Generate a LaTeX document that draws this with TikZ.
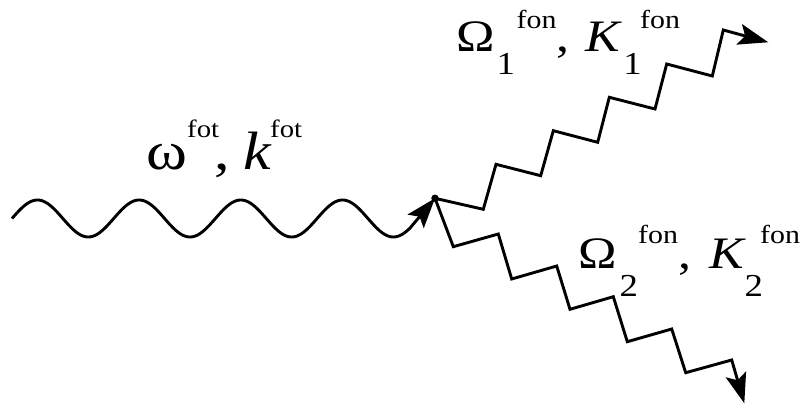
\documentclass[tikz,border=0pt]{standalone}
\usepackage{fontspec}
\setmainfont{Liberation Serif}[FakeStretch=1.15]
\usetikzlibrary{arrows.meta}
\newcommand\fsz[1]{\fontsize{#1}{#1}\selectfont}
% place a piece at horizontal offset #1, raised by #2
\newcommand\pcat[3]{\rlap{\hspace{#1pt}\raisebox{#2pt}{#3}}}
\begin{document}
\begin{tikzpicture}[x=1pt,y=1pt,
  line/.style={line width=2.9pt, line join=miter},
  tip/.style={-{Stealth[length=30pt,width=21pt,inset=6pt]}},
  lbl/.style={anchor=base west, inner sep=0pt}]
\useasboundingbox (0,0) rectangle (805,-406);
% vertex
\node[circle, fill, inner sep=0pt, minimum size=7.5pt] (v) at (435,-198.3) {};
\coordinate (w0) at (12,-218.5);
\coordinate (e1) at (768.3,-42.3);
\coordinate (e2) at (744.3,-403.3);
% photon (wave)
\draw[line, tip] (w0) -- plot[domain=12:410, samples=240, smooth]
  (\x, {-218.5 + 18.5*sin(3.5398*(\x-12))}) -- (v.center);
% phonon 1
\draw[line, tip] (v.center) -- (483.3,-209.3) -- (496,-164.3) -- (540.7,-175.7)
  -- (553.3,-130.7) -- (597.7,-142.3) -- (609.3,-97.3) -- (655,-109)
  -- (666.7,-64) -- (712.3,-76) -- (723.3,-30) -- (e1);
% phonon 2
\draw[line, tip] (v.center) -- (453.3,-246.7) -- (498.3,-234) -- (511.7,-279)
  -- (556.7,-266) -- (570,-309.3) -- (613.3,-296.7) -- (627.3,-341.7)
  -- (671.7,-329) -- (685.7,-372.7) -- (731.7,-360) -- (e2);
% labels
\node[lbl] (l1) at (145.5,-170) {\pcat{0}{0}{\fsz{54}ω}\pcat{41}{32.3}{\fsz{25}fot}\pcat{68}{0}{\fsz{54},}\pcat{97}{0}{\fsz{54}\itshape k}\pcat{124}{32.3}{\fsz{25}fot}\hspace{160pt}};
\node[lbl] (l2) at (456,-51.7) {\pcat{0}{0}{\fsz{45}Ω}\pcat{40}{-23.3}{\fsz{32}1}\pcat{60}{23.4}{\fsz{26}fon}\pcat{100}{0}{\fsz{45},}\pcat{129}{0}{\fsz{45}\itshape K}\pcat{166.7}{-23.3}{\fsz{32}1}\pcat{183.5}{23.4}{\fsz{26}fon}\hspace{226pt}};
\node[lbl] (l3) at (578,-268.3) {\pcat{0}{0}{\fsz{45}Ω}\pcat{41}{-28.4}{\fsz{32}2}\pcat{59.5}{25}{\fsz{26}fon}\pcat{100}{0}{\fsz{45},}\pcat{130.5}{0}{\fsz{45}\itshape K}\pcat{166}{-28.4}{\fsz{32}2}\pcat{181.5}{25}{\fsz{26}fon}\hspace{222pt}};
\end{tikzpicture}
\end{document}
